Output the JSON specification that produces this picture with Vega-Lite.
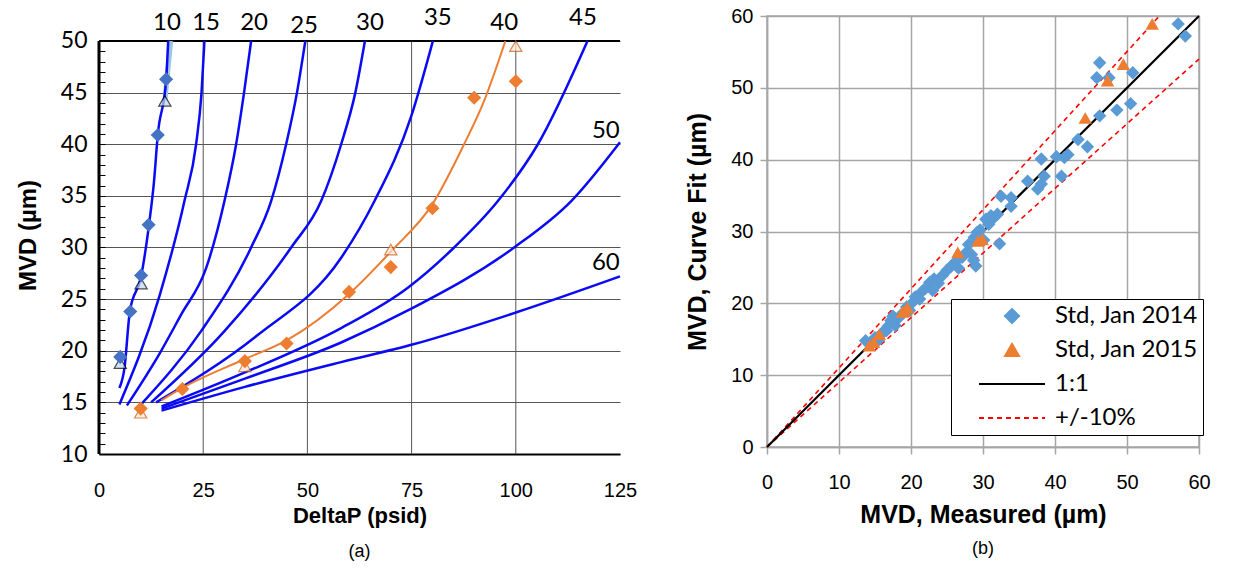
{
  "$schema": "https://vega.github.io/schema/vega-lite/v6.json",
  "background": "white",
  "padding": {"left": 16, "top": 5, "right": 0, "bottom": 0},
  "spacing": 48,
  "config": {
    "view": {"stroke": null},
    "axis": {"labelColor": "black", "titleColor": "black", "labelFont": "Liberation Sans", "titleFont": "Liberation Sans", "labelFontSize": 20, "titleFontSize": 22, "titleFontWeight": "bold", "labelFlush": false, "labelOverlap": false},
    "title": {"font": "Liberation Sans", "fontSize": 18, "fontWeight": "normal", "color": "black"}
  },
  "datasets": {
    "vframe": [
      {"kind": "axis", "x": 0, "y": 10, "y2": 50},
      {"kind": "grid", "x": 25, "y": 10, "y2": 50},
      {"kind": "grid", "x": 50, "y": 10, "y2": 50},
      {"kind": "grid", "x": 75, "y": 10, "y2": 50},
      {"kind": "grid", "x": 100, "y": 10, "y2": 50}
    ],
    "hframe": [{"kind": "top", "x": 0, "x2": 125, "y": 50}],
    "curves": [
      {"curve": "10", "x": 4.9, "y": 16.4}, {"curve": "10", "x": 6.1, "y": 18.3}, {"curve": "10", "x": 7.4, "y": 23.8}, {"curve": "10", "x": 10.1, "y": 27.2}, {"curve": "10", "x": 12.0, "y": 32.2}, {"curve": "10", "x": 13.2, "y": 36.4}, {"curve": "10", "x": 14.1, "y": 40.9}, {"curve": "10", "x": 16.1, "y": 46.2}, {"curve": "10", "x": 16.6, "y": 50},
      {"curve": "15", "x": 4.9, "y": 14.8}, {"curve": "15", "x": 14.5, "y": 25.3}, {"curve": "15", "x": 20.5, "y": 34.5}, {"curve": "15", "x": 23.3, "y": 40}, {"curve": "15", "x": 24.6, "y": 45}, {"curve": "15", "x": 25.3, "y": 50},
      {"curve": "20", "x": 6.7, "y": 14.7}, {"curve": "20", "x": 14.5, "y": 19.7}, {"curve": "20", "x": 19.7, "y": 23.5}, {"curve": "20", "x": 25.7, "y": 28.0}, {"curve": "20", "x": 30.1, "y": 34.5}, {"curve": "20", "x": 32.9, "y": 40}, {"curve": "20", "x": 34.8, "y": 45}, {"curve": "20", "x": 36.5, "y": 50},
      {"curve": "25", "x": 10.1, "y": 14.8}, {"curve": "25", "x": 24.5, "y": 21.9}, {"curve": "25", "x": 36.5, "y": 30}, {"curve": "25", "x": 41.3, "y": 34.5}, {"curve": "25", "x": 44.9, "y": 40}, {"curve": "25", "x": 47.5, "y": 45}, {"curve": "25", "x": 49.5, "y": 50},
      {"curve": "30", "x": 12.5, "y": 15.0}, {"curve": "30", "x": 30.1, "y": 21.9}, {"curve": "30", "x": 46.1, "y": 30}, {"curve": "30", "x": 53.3, "y": 34.5}, {"curve": "30", "x": 58.1, "y": 40}, {"curve": "30", "x": 61.5, "y": 45}, {"curve": "30", "x": 63.8, "y": 50},
      {"curve": "35", "x": 13.7, "y": 15.0}, {"curve": "35", "x": 38.0, "y": 21.5}, {"curve": "35", "x": 58.1, "y": 29.0}, {"curve": "35", "x": 66.1, "y": 34.5}, {"curve": "35", "x": 74.9, "y": 42.7}, {"curve": "35", "x": 80.1, "y": 50},
      {"curve": "45", "x": 15.0, "y": 14.6}, {"curve": "45", "x": 35.0, "y": 17.9}, {"curve": "45", "x": 58.1, "y": 22.2}, {"curve": "45", "x": 74.1, "y": 26.1}, {"curve": "45", "x": 85.2, "y": 30}, {"curve": "45", "x": 95.7, "y": 34.5}, {"curve": "45", "x": 105.3, "y": 40}, {"curve": "45", "x": 117.2, "y": 50},
      {"curve": "50", "x": 15.0, "y": 14.4}, {"curve": "50", "x": 35.0, "y": 17.3}, {"curve": "50", "x": 58.1, "y": 20.8}, {"curve": "50", "x": 74.1, "y": 23.9}, {"curve": "50", "x": 99.6, "y": 30}, {"curve": "50", "x": 113.3, "y": 34.5}, {"curve": "50", "x": 125, "y": 40.2},
      {"curve": "60", "x": 15.0, "y": 14.2}, {"curve": "60", "x": 35.0, "y": 16.5}, {"curve": "60", "x": 58.1, "y": 18.9}, {"curve": "60", "x": 75.2, "y": 20.6}, {"curve": "60", "x": 100, "y": 23.7}, {"curve": "60", "x": 125, "y": 27.2}
    ],
    "fit40": [
      {"x": 15, "y": 15.2}, {"x": 20, "y": 16.4}, {"x": 35, "y": 19.2}, {"x": 45, "y": 21.0}, {"x": 60, "y": 25.5}, {"x": 70, "y": 29.6}, {"x": 80, "y": 34.2}, {"x": 87.6, "y": 40}, {"x": 92.4, "y": 44.2}, {"x": 97.5, "y": 50}
    ],
    "lightseg": [{"x": 15.8, "y": 44.2}, {"x": 17.2, "y": 50}],
    "markersA": [
      {"set": "b1", "x": 5.1, "y": 19.4}, {"set": "b1", "x": 7.5, "y": 23.8}, {"set": "b1", "x": 10.1, "y": 27.3}, {"set": "b1", "x": 11.9, "y": 32.2}, {"set": "b1", "x": 14.1, "y": 40.9}, {"set": "b1", "x": 16.1, "y": 46.3},
      {"set": "b2", "x": 5.1, "y": 18.8}, {"set": "b2", "x": 10.1, "y": 26.5}, {"set": "b2", "x": 15.8, "y": 44.2},
      {"set": "o1", "x": 10, "y": 14.4}, {"set": "o1", "x": 20, "y": 16.3}, {"set": "o1", "x": 35, "y": 19.0}, {"set": "o1", "x": 45, "y": 20.7}, {"set": "o1", "x": 60, "y": 25.7}, {"set": "o1", "x": 70, "y": 28.1}, {"set": "o1", "x": 80, "y": 33.8}, {"set": "o1", "x": 90, "y": 44.5}, {"set": "o1", "x": 100, "y": 46.1},
      {"set": "o2", "x": 10, "y": 14.0}, {"set": "o2", "x": 35, "y": 18.5}, {"set": "o2", "x": 70, "y": 29.8}, {"set": "o2", "x": 100, "y": 49.5}
    ],
    "curveLabels": [
      {"label": "10", "x": 16.3, "y": 51.7}, {"label": "15", "x": 25.7, "y": 51.7}, {"label": "20", "x": 37.2, "y": 51.7}, {"label": "25", "x": 49.2, "y": 51.5}, {"label": "30", "x": 65.0, "y": 51.7}, {"label": "35", "x": 81.3, "y": 52.2}, {"label": "40", "x": 97.2, "y": 51.7}, {"label": "45", "x": 116.1, "y": 52.2}, {"label": "50", "x": 121.6, "y": 41.3}, {"label": "60", "x": 121.6, "y": 28.5}
    ],
    "refLines": [
      {"series": "1:1", "x": 0, "y": 0}, {"series": "1:1", "x": 60, "y": 60}
    ],
    "tenLines": [
      {"band": "hi", "x": 0, "y": 0}, {"band": "hi", "x": 54.5, "y": 60},
      {"band": "lo", "x": 0, "y": 0}, {"band": "lo", "x": 60, "y": 54}
    ],
    "scatter": [
      {"series": "Std, Jan 2014", "m": 57.1, "c": 58.9}, {"series": "Std, Jan 2014", "m": 58.1, "c": 57.2}, {"series": "Std, Jan 2014", "m": 46.2, "c": 53.5}, {"series": "Std, Jan 2014", "m": 45.8, "c": 51.4}, {"series": "Std, Jan 2014", "m": 47.5, "c": 51.4}, {"series": "Std, Jan 2014", "m": 50.8, "c": 52.1},
      {"series": "Std, Jan 2014", "m": 46.2, "c": 46.1}, {"series": "Std, Jan 2014", "m": 48.6, "c": 46.9}, {"series": "Std, Jan 2014", "m": 50.5, "c": 47.8}, {"series": "Std, Jan 2014", "m": 43.2, "c": 42.8}, {"series": "Std, Jan 2014", "m": 44.5, "c": 41.8},
      {"series": "Std, Jan 2014", "m": 38.1, "c": 40.1}, {"series": "Std, Jan 2014", "m": 40.2, "c": 40.4}, {"series": "Std, Jan 2014", "m": 41.3, "c": 40.3}, {"series": "Std, Jan 2014", "m": 41.8, "c": 40.7}, {"series": "Std, Jan 2014", "m": 36.2, "c": 37.0}, {"series": "Std, Jan 2014", "m": 38.5, "c": 37.7}, {"series": "Std, Jan 2014", "m": 40.9, "c": 37.7}, {"series": "Std, Jan 2014", "m": 37.6, "c": 35.9}, {"series": "Std, Jan 2014", "m": 38.1, "c": 36.6},
      {"series": "Std, Jan 2014", "m": 32.5, "c": 34.9}, {"series": "Std, Jan 2014", "m": 33.9, "c": 34.7}, {"series": "Std, Jan 2014", "m": 33.9, "c": 33.5}, {"series": "Std, Jan 2014", "m": 31.1, "c": 32.2}, {"series": "Std, Jan 2014", "m": 30.4, "c": 31.7}, {"series": "Std, Jan 2014", "m": 32.3, "c": 28.3},
      {"series": "Std, Jan 2014", "m": 13.7, "c": 14.8}, {"series": "Std, Jan 2014", "m": 14.3, "c": 14.5}, {"series": "Std, Jan 2014", "m": 15.0, "c": 15.2}, {"series": "Std, Jan 2014", "m": 15.5, "c": 14.9}, {"series": "Std, Jan 2014", "m": 16.2, "c": 16.0}, {"series": "Std, Jan 2014", "m": 16.8, "c": 16.8}, {"series": "Std, Jan 2014", "m": 17.2, "c": 17.6}, {"series": "Std, Jan 2014", "m": 17.8, "c": 16.9}, {"series": "Std, Jan 2014", "m": 18.3, "c": 18.0}, {"series": "Std, Jan 2014", "m": 18.9, "c": 18.7},
      {"series": "Std, Jan 2014", "m": 19.4, "c": 19.5}, {"series": "Std, Jan 2014", "m": 20.1, "c": 20.0}, {"series": "Std, Jan 2014", "m": 20.6, "c": 20.9}, {"series": "Std, Jan 2014", "m": 21.2, "c": 20.6}, {"series": "Std, Jan 2014", "m": 21.5, "c": 21.6}, {"series": "Std, Jan 2014", "m": 22.0, "c": 22.1}, {"series": "Std, Jan 2014", "m": 22.6, "c": 22.9}, {"series": "Std, Jan 2014", "m": 23.2, "c": 23.4}, {"series": "Std, Jan 2014", "m": 23.8, "c": 22.8}, {"series": "Std, Jan 2014", "m": 24.4, "c": 23.9},
      {"series": "Std, Jan 2014", "m": 25.0, "c": 24.6}, {"series": "Std, Jan 2014", "m": 25.6, "c": 25.2}, {"series": "Std, Jan 2014", "m": 26.2, "c": 25.8}, {"series": "Std, Jan 2014", "m": 26.6, "c": 24.9}, {"series": "Std, Jan 2014", "m": 27.1, "c": 26.4}, {"series": "Std, Jan 2014", "m": 27.6, "c": 27.0}, {"series": "Std, Jan 2014", "m": 28.0, "c": 28.2}, {"series": "Std, Jan 2014", "m": 28.4, "c": 26.8}, {"series": "Std, Jan 2014", "m": 28.8, "c": 29.2}, {"series": "Std, Jan 2014", "m": 29.2, "c": 29.9},
      {"series": "Std, Jan 2014", "m": 29.6, "c": 30.2}, {"series": "Std, Jan 2014", "m": 30.1, "c": 28.8}, {"series": "Std, Jan 2014", "m": 30.8, "c": 31.0}, {"series": "Std, Jan 2014", "m": 31.5, "c": 31.9}, {"series": "Std, Jan 2014", "m": 32.0, "c": 32.4}, {"series": "Std, Jan 2014", "m": 29.0, "c": 25.2}, {"series": "Std, Jan 2014", "m": 28.7, "c": 26.0}, {"series": "Std, Jan 2014", "m": 23.0, "c": 21.8}, {"series": "Std, Jan 2014", "m": 19.8, "c": 19.0}, {"series": "Std, Jan 2014", "m": 17.5, "c": 18.2}, {"series": "Std, Jan 2014", "m": 15.9, "c": 15.8}, {"series": "Std, Jan 2014", "m": 16.6, "c": 16.2},
      {"series": "Std, Jan 2015", "m": 14.2, "c": 14.1}, {"series": "Std, Jan 2015", "m": 14.8, "c": 14.6}, {"series": "Std, Jan 2015", "m": 15.6, "c": 15.7}, {"series": "Std, Jan 2015", "m": 18.8, "c": 18.8}, {"series": "Std, Jan 2015", "m": 19.1, "c": 18.9}, {"series": "Std, Jan 2015", "m": 19.5, "c": 19.4}, {"series": "Std, Jan 2015", "m": 26.5, "c": 27.1}, {"series": "Std, Jan 2015", "m": 29.3, "c": 28.7}, {"series": "Std, Jan 2015", "m": 29.9, "c": 28.9}, {"series": "Std, Jan 2015", "m": 44.2, "c": 45.8}, {"series": "Std, Jan 2015", "m": 47.3, "c": 51.0}, {"series": "Std, Jan 2015", "m": 49.5, "c": 53.3}, {"series": "Std, Jan 2015", "m": 53.5, "c": 58.9}
    ]
  },
  "hconcat": [
    {
      "width": 521,
      "height": 438,
      "title": {"text": "(a)", "orient": "bottom", "offset": 17},
      "layer": [
        {
          "data": {"name": "vframe"},
          "mark": {"type": "rule"},
          "encoding": {
            "x": {"field": "x", "type": "quantitative", "scale": {"domain": [0, 125], "nice": false, "zero": false},
              "axis": {"values": [0, 25, 50, 75, 100, 125], "grid": false, "domainColor": "black", "domainWidth": 2, "ticks": false, "labelPadding": 26, "title": "DeltaP (psid)", "titlePadding": 5}},
            "y": {"field": "y", "type": "quantitative", "scale": {"domain": [10, 52.421], "nice": false, "zero": false},
              "axis": {"values": [10, 15, 20, 25, 30, 35, 40, 45, 50], "grid": true, "gridColor": "#555555", "gridWidth": 1,
                "domain": false, "tickColor": "black", "tickSize": -6, "labelPadding": 18, "labelFont": "Lato", "labelFontSize": 23,
                "title": "MVD (µm)", "titleFontSize": 24, "titlePadding": 20}},
            "y2": {"field": "y2"},
            "color": {"field": "kind", "type": "nominal", "scale": {"domain": ["axis", "grid"], "range": ["#000000", "#555555"]}, "legend": null},
            "strokeWidth": {"field": "kind", "type": "nominal", "scale": {"domain": ["axis", "grid"], "range": [3, 1]}, "legend": null}
          }
        },
        {
          "data": {"name": "hframe"},
          "mark": {"type": "rule", "color": "black", "strokeWidth": 2},
          "encoding": {
            "x": {"field": "x", "type": "quantitative"}, "x2": {"field": "x2"},
            "y": {"field": "y", "type": "quantitative", "axis": null}
          }
        },
        {
          "data": {"name": "lightseg"},
          "mark": {"type": "line", "color": "#9DC3E6", "strokeWidth": 5},
          "encoding": {
            "x": {"field": "x", "type": "quantitative"},
            "y": {"field": "y", "type": "quantitative",
              "axis": {"orient": "left", "values": [11,12,13,14,16,17,18,19,21,22,23,24,26,27,28,29,31,32,33,34,36,37,38,39,41,42,43,44,46,47,48,49],
                "labels": false, "grid": false, "domain": false, "tickColor": "black", "tickSize": -6, "title": null}}
          }
        },
        {
          "data": {"name": "curves"},
          "mark": {"type": "line", "color": "#0A0AF5", "strokeWidth": 2.5, "interpolate": "monotone"},
          "encoding": {"x": {"field": "x", "type": "quantitative"}, "y": {"field": "y", "type": "quantitative", "axis": null}, "detail": {"field": "curve"}}
        },
        {
          "data": {"name": "fit40"},
          "mark": {"type": "line", "color": "#ED7D31", "strokeWidth": 2, "interpolate": "monotone"},
          "encoding": {"x": {"field": "x", "type": "quantitative"}, "y": {"field": "y", "type": "quantitative", "axis": null}}
        },
        {
          "data": {"name": "markersA"},
          "transform": [{"filter": "datum.set === 'b2' || datum.set === 'o2'"}],
          "mark": {"type": "point", "shape": "triangle-up", "size": 150, "filled": true, "strokeWidth": 1.2},
          "encoding": {
            "x": {"field": "x", "type": "quantitative"}, "y": {"field": "y", "type": "quantitative", "axis": null},
            "fill": {"field": "set", "type": "nominal", "scale": {"domain": ["b2", "o2"], "range": ["#BDD7EE", "#FBE5D6"]}, "legend": null},
            "stroke": {"field": "set", "type": "nominal", "scale": {"domain": ["b2", "o2"], "range": ["#000000", "#C55A11"]}, "legend": null}
          }
        },
        {
          "data": {"name": "markersA"},
          "transform": [{"filter": "datum.set === 'b1' || datum.set === 'o1'"}],
          "mark": {"type": "point", "shape": "diamond", "size": 200, "filled": true, "opacity": 1},
          "encoding": {
            "x": {"field": "x", "type": "quantitative"}, "y": {"field": "y", "type": "quantitative", "axis": null},
            "fill": {"field": "set", "type": "nominal", "scale": {"domain": ["b1", "o1"], "range": ["#4472C4", "#ED7D31"]}, "legend": null}
          }
        },
        {
          "data": {"name": "curveLabels"},
          "mark": {"type": "text", "font": "Lato", "fontSize": 24, "color": "black", "clip": false},
          "encoding": {"x": {"field": "x", "type": "quantitative"}, "y": {"field": "y", "type": "quantitative", "axis": null}, "text": {"field": "label"}}
        }
      ],
      "resolve": {"scale": {"fill": "independent", "stroke": "independent", "color": "independent", "strokeWidth": "independent"}, "axis": {"y": "independent"}}
    },
    {
      "width": 432,
      "height": 431,
      "view": {"stroke": "#A6A6A6", "strokeWidth": 1.5},
      "title": {"text": "(b)", "orient": "bottom", "offset": 13},
      "layer": [
        {
          "data": {"name": "tenLines"},
          "mark": {"type": "line", "color": "#FF0000", "strokeWidth": 1.6, "strokeDash": [5, 4]},
          "encoding": {
            "x": {"field": "x", "type": "quantitative", "scale": {"domain": [0, 60], "nice": false},
              "axis": {"values": [0, 10, 20, 30, 40, 50, 60], "grid": true, "gridColor": "#A6A6A6", "gridWidth": 1.5, "domainColor": "#A6A6A6", "domainWidth": 1.5, "tickColor": "#A6A6A6", "tickSize": 7, "tickWidth": 1.5, "labelPadding": 18, "title": "MVD, Measured (µm)", "titleFontSize": 25, "titlePadding": 10}},
            "y": {"field": "y", "type": "quantitative", "scale": {"domain": [0, 60], "nice": false},
              "axis": {"values": [0, 10, 20, 30, 40, 50, 60], "grid": true, "gridColor": "#A6A6A6", "gridWidth": 1.5, "domainColor": "#A6A6A6", "domainWidth": 1.5, "tickColor": "#A6A6A6", "tickSize": 7, "tickWidth": 1.5, "labelPadding": 7, "title": "MVD, Curve Fit (µm)", "titleFontSize": 25, "titlePadding": 20}},
            "detail": {"field": "band"}
          }
        },
        {
          "data": {"name": "refLines"},
          "mark": {"type": "line", "strokeWidth": 2.2},
          "encoding": {
            "x": {"field": "x", "type": "quantitative"}, "y": {"field": "y", "type": "quantitative"},
            "color": {"field": "series", "type": "nominal"}
          }
        },
        {
          "data": {"name": "scatter"},
          "mark": {"type": "point", "filled": true, "opacity": 1, "size": 180},
          "encoding": {
            "x": {"field": "m", "type": "quantitative"}, "y": {"field": "c", "type": "quantitative"},
            "color": {"field": "series", "type": "nominal",
              "scale": {"domain": ["Std, Jan 2014", "Std, Jan 2015", "1:1", "+/-10%"], "range": ["#5B9BD5", "#ED7D31", "#000000", "#FF0000"]},
              "legend": {
                "title": null, "orient": "none", "legendX": 852, "legendY": 283, "direction": "vertical",
                "strokeColor": "black", "fillColor": "white", "padding": 5,
                "labelFont": "Lato", "labelFontSize": 24, "labelColor": "black", "labelLimit": 400,
                "labelExpr": "datum.label + '\u00a0\u00a0\u00a0\u00a0'",
                "symbolSize": 200, "symbolOffset": 44, "labelOffset": 31, "rowPadding": 10,
                "symbolStrokeWidth": 2,
                "encode": {
                  "symbols": {"update": {
                    "fill": {"signal": "datum.value === 'Std, Jan 2014' ? '#5B9BD5' : datum.value === 'Std, Jan 2015' ? '#ED7D31' : 'transparent'"},
                    "stroke": {"signal": "datum.value === '1:1' ? '#000000' : datum.value === '+/-10%' ? '#FF0000' : 'transparent'"},
                    "strokeWidth": {"value": 2},
                    "opacity": {"value": 1}
                  }}
                }
              }},
            "shape": {"field": "series", "type": "nominal",
              "scale": {"domain": ["Std, Jan 2014", "Std, Jan 2015", "1:1", "+/-10%"], "range": ["diamond", "triangle-up", "M-4.67,0H4.67", "M-4.67,0H4.67"]},
              "legend": null},
            "strokeDash": {"field": "series", "type": "nominal",
              "scale": {"domain": ["Std, Jan 2014", "Std, Jan 2015", "1:1", "+/-10%"], "range": [[1, 0], [1, 0], [1, 0], [5, 4]]}}
          }
        }
      ]
    }
  ]
}
